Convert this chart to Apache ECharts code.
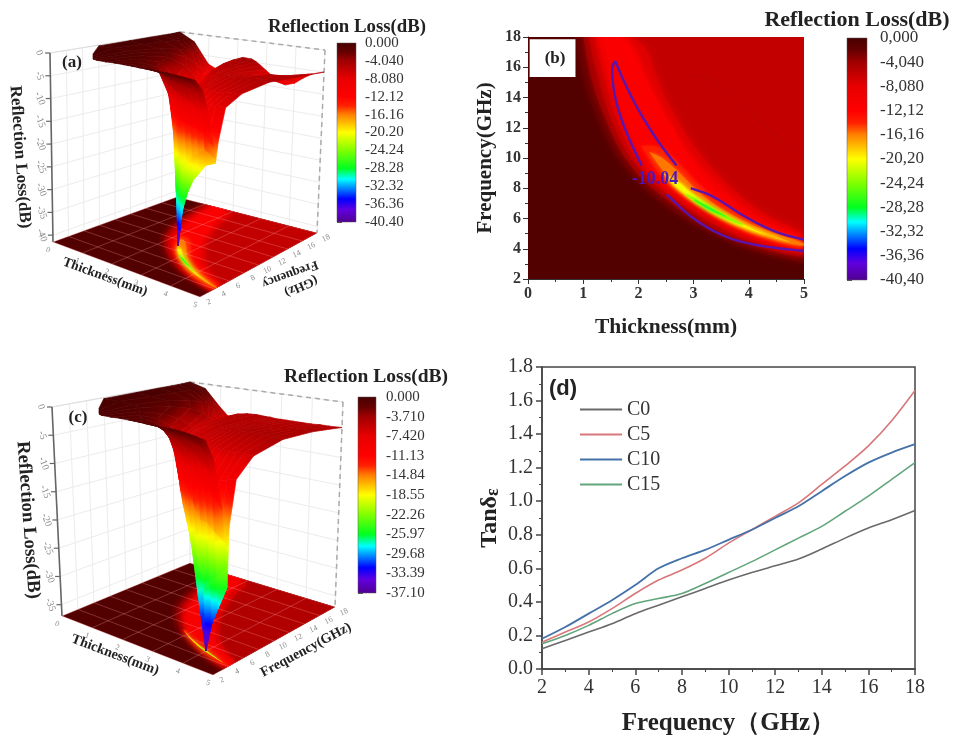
<!DOCTYPE html>
<html><head><meta charset="utf-8">
<style>html,body{margin:0;background:#fff}#c{width:955px;height:737px;filter:blur(0.55px)}</style>
<script src="https://cdn.jsdelivr.net/npm/echarts@6/dist/echarts.min.js"></script></head>
<body><div id="c"></div>
<script>
// ---------- panel (d) ----------
const freqD=[2,3,4,5,6,7,8,9,10,11,12,13,14,15,16,17,18];
const c0=[.12,.17,.22,.27,.33,.38,.43,.48,.53,.575,.615,.655,.715,.78,.84,.89,.945];
const c5=[.16,.22,.28,.36,.45,.53,.59,.66,.75,.83,.91,.99,1.1,1.21,1.33,1.48,1.66];
const c10=[.18,.25,.33,.41,.5,.6,.66,.71,.77,.83,.9,.97,1.06,1.15,1.23,1.29,1.34];
const c15=[.15,.2,.26,.33,.39,.42,.45,.51,.575,.64,.71,.78,.85,.94,1.03,1.13,1.23];
// ---------- colour bar labels ----------
const barLabelsA=["0.000","-4.040","-8.080","-12.12","-16.16","-20.20","-24.24","-28.28","-32.32","-36.36","-40.40"];
const barLabelsB=["0,000","-4,040","-8,080","-12,12","-16,16","-20,20","-24,24","-28,28","-32,32","-36,36","-40,40"];
const barLabelsC=["0.000","-3.710","-7.420","-11.13","-14.84","-18.55","-22.26","-25.97","-29.68","-33.39","-37.10"];
// ---------- surfaces: cross sections at each thickness (mm), sampled relative to the absorption ridge ----------
const stationT=[0,.5,1,1.3,1.6,1.9,2.2,2.5,2.65,2.8,3,3.2,3.4,3.7,4,4.3,4.6,5];
const ridgeFreqA=[17,17,17,16.8,15.5,12.5,10.2,8.8,8.2,7.7,7.2,6.6,6.1,5.6,5.2,4.9,4.6,4.35];
const ridgeFreqC=[17,17,17,16,13,10.5,8.9,7.6,7.2,6.8,6.35,6.05,5.75,5.35,5,4.7,4.4,4.1];
const nodesBelow=[1,.6,.35,.18,.08,.03];
const nodesAbove=[.03,.1,.25,.5,.75,1];
const rlA=[
[-.2,-.2,-.15,-.1,-.1,-.1,-.1,-.1,-.1,-.1,-.05,0,0],
[-.2,-.3,-.5,-.7,-.9,-1,-1.1,-1.2,-1.3,-1.4,-1.6,-1.8,-2],
[-.2,-.5,-1,-2,-3,-4,-5,-5.2,-5.4,-5.8,-6,-6.5,-7],
[-.3,-.7,-1.6,-3.5,-6,-8,-9,-9,-9,-8.8,-8.5,-8.2,-8],
[-.3,-.9,-2.2,-5,-8.5,-10,-11,-10.8,-10,-9,-8,-7,-6.5],
[-.4,-1,-2.5,-6.5,-10.5,-12,-13,-12.5,-11,-8.5,-6.5,-5.5,-5],
[-.4,-1.2,-2.8,-9,-13,-14.5,-15,-14,-11,-8.5,-6.2,-4.8,-4.2],
[-.5,-1.4,-3,-7.5,-15,-21,-24,-18,-11,-7.8,-6,-5,-4.3],
[-.55,-1.5,-3,-6.5,-16,-27,-33,-21,-11,-7.5,-5.8,-5.2,-4.8],
[-.6,-1.6,-3,-6,-15,-30,-40,-24,-11,-7.2,-5.7,-5.6,-5.5],
[-.7,-1.8,-3.2,-6,-14,-27,-36,-23,-11,-7.2,-5.6,-5.8,-6.5],
[-.75,-1.9,-3.3,-6,-13,-24,-33,-22,-10.5,-7,-5.5,-6,-7.5],
[-.8,-2,-3.5,-6,-12,-22,-30,-20,-10,-7,-5.4,-6.3,-8.5],
[-.9,-2.1,-3.7,-6.5,-12,-20,-26,-18,-9.5,-7,-5.2,-6,-9.2],
[-1,-2.3,-4,-7,-12,-18,-23,-16,-9,-6.8,-5,-5.3,-8.5],
[-1.2,-2.5,-4.3,-8,-12.5,-17,-21,-14,-8.5,-6.5,-5,-5.2,-7],
[-1.4,-2.8,-5,-9,-13,-16,-19,-13,-8,-6.2,-4.8,-5,-5.8],
[-1.7,-4,-8,-12,-15,-17,-18,-14,-8,-6,-4.8,-4.9,-5]];
const rlC=[
[-.2,-.2,-.15,-.1,-.1,-.1,-.1,-.1,-.1,-.1,-.05,0,0],
[-.2,-.3,-.5,-.6,-.7,-.8,-.85,-.9,-.9,-.9,-.9,-.9,-.9],
[-.2,-.5,-.9,-1.6,-2.4,-3,-3.5,-3.6,-3.7,-3.9,-4,-4.2,-4.3],
[-.3,-.7,-1.5,-2.7,-4,-5,-5.7,-5.8,-5.9,-6,-6,-6,-6],
[-.3,-.9,-2,-3.5,-5,-5.7,-6,-6,-5.9,-5.6,-5.2,-5,-5],
[-.4,-1,-2.2,-4,-5.6,-6.6,-7,-6.9,-6.6,-5.8,-4.9,-4.6,-4.7],
[-.4,-1.2,-2.5,-4.3,-6.2,-7.8,-8.5,-8,-7,-5.7,-4.8,-4.5,-4.6],
[-.5,-1.3,-2.6,-4.5,-7,-9.5,-10.5,-9.3,-7.5,-6,-4.8,-4.6,-4.7],
[-.55,-1.4,-2.8,-4.8,-7.5,-10.5,-12,-10,-7.8,-6,-4.8,-4.6,-4.7],
[-.6,-1.5,-3,-5,-8,-11.5,-13.5,-11,-8,-6.2,-4.8,-4.6,-4.8],
[-.7,-1.7,-3.2,-5.5,-9,-13,-15.5,-12,-8.5,-6.3,-4.7,-4.6,-4.8],
[-.75,-1.8,-3.5,-6,-10.5,-15,-18,-13,-8.8,-6.3,-4.6,-4.6,-4.8],
[-.8,-2,-3.8,-7,-12,-17,-21,-14,-9,-6.3,-4.5,-4.6,-4.8],
[-.9,-2.3,-4.5,-8,-14,-22,-29,-17,-9.5,-6.3,-4.4,-4.6,-4.8],
[-1,-2.6,-5,-9,-16,-27,-37,-21,-10,-6.3,-4.3,-4.5,-4.8],
[-1.2,-3,-6,-10,-16,-25,-32,-20,-10,-6.2,-4.3,-4.4,-4.7],
[-1.5,-3.6,-7,-11,-17,-24,-29,-19,-9.5,-6,-4.3,-4.3,-4.7],
[-2,-5,-9,-13,-18,-22,-25,-16,-9,-6,-4.4,-4.2,-4.6]];
// ---------- contours of panel (b), [thickness, frequency] ----------
const front2=[[.85,18],[1,15],[1.2,13],[1.5,10.5],[1.9,8.6],[2.3,7.3],[2.8,6],[3.3,5],[3.8,4.2],[4.3,3.6],[5,3]];
const front4=[[1,18],[1.15,15],[1.35,13],[1.65,10.5],[2.05,8.6],[2.45,7.4],[2.9,6.2],[3.4,5.2],[3.9,4.4],[4.4,3.85],[5,3.4]];
const front6=[[1.1,18],[1.25,15.5],[1.45,13],[1.75,10.5],[2.15,8.7],[2.55,7.5],[3,6.4],[3.5,5.35],[4,4.55],[4.5,4],[5,3.6]];
const cres7=[[1.2,18],[1.33,16],[1.55,13],[1.85,10.5],[2.2,8.8],[2.6,7.6],[3.05,6.5],[3.55,5.45],[4.05,4.65],[4.5,4.15],[5,3.75],[5,5.1],[4.5,5.8],[4,7],[3.5,8.6],[3.1,10.3],[2.7,12.5],[2.35,15],[2.1,18]];
const cres9=[[1.25,18],[1.4,16],[1.62,13],[1.93,10.5],[2.27,8.8],[2.65,7.7],[3.1,6.6],[3.6,5.5],[4.1,4.7],[4.55,4.2],[5,3.8],[5,4.9],[4.3,5.8],[3.8,7],[3.3,8.8],[2.9,10.3],[2.5,12.5],[2.15,15],[1.9,18]];
const cres11=[[1.35,18],[1.5,16],[1.7,13],[2,10.5],[2.33,8.8],[2.7,7.6],[3.1,6.7],[3.6,5.6],[4.1,4.8],[4.6,4.25],[5,3.95],[5,4.75],[4.4,5.5],[3.9,6.5],[3.4,7.9],[3,9.5],[2.7,11.5],[2.3,14],[1.95,16.5],[1.75,18]];
const cres13=[[2.05,10.8],[2.35,9],[2.7,7.75],[3.1,6.8],[3.6,5.7],[4.1,4.9],[4.6,4.35],[5,4.05],[5,4.55],[4.5,5.1],[4,5.9],[3.5,7],[3.1,8.2],[2.75,9.6],[2.4,10.8]];
const cres15=[[2.2,10.4],[2.45,9.1],[2.75,7.85],[3.1,6.95],[3.6,5.8],[4.1,5],[4.6,4.45],[5,4.15],[5,4.4],[4.5,4.95],[4,5.65],[3.5,6.6],[3.1,7.7],[2.75,9],[2.45,10]];
const cres17=[[2.45,9],[2.6,8.2],[3,7.1],[3.5,6],[4,5.2],[4.6,4.55],[4.8,4.4],[4.55,4.75],[4,5.5],[3.5,6.4],[3,7.6],[2.7,8.6]];
const cres20=[[2.6,8.4],[3,7.2],[3.5,6.1],[4,5.3],[4.4,4.8],[4,5.4],[3.5,6.3],[3,7.5],[2.7,8.5]];
const cres24=[[2.85,7.6],[3.2,6.7],[3.6,5.95],[4,5.4],[3.6,6.15],[3.2,6.95],[2.9,7.6]];
const cres27=[[3,7.2],[3.3,6.55],[3.7,5.95],[3.3,6.7],[3.05,7.2]];
const cres30=[[3.15,6.85],[3.45,6.35],[3.2,6.75]];
const cresC13=[[2.75,6.85],[3.2,5.9],[3.7,5.2],[4.3,4.55],[5,3.95],[5,4.25],[4.3,4.85],[3.7,5.5],[3.2,6.2],[2.8,7.1]];
const cresC20=[[2.8,6.85],[3.2,5.95],[3.7,5.25],[4.3,4.6],[4.9,4.1],[4.3,4.78],[3.7,5.42],[3.2,6.1]];
const cresC25=[[3.6,5.33],[4.3,4.65],[4.7,4.3],[4.3,4.72],[3.6,5.42]];
const contourUpper=[[1.58,16.4],[1.72,15.2],[1.96,13.4],[2.33,11.2],[2.69,9.5]];
const contourUpper2=[[2.95,8],[3.36,7.5],[3.9,6.15],[4.5,5.05],[5,4.6]];
const contourLower=[[1.58,16.4],[1.51,16],[1.57,13.9],[1.78,11.65],[2.06,9.5]];
const contourLower2=[[2.51,7.6],[3,5.9],[3.6,4.7],[4.2,4.17],[5,3.85]];
const faintContour=[[2.9,15.5],[3.3,15.4],[4,13],[5,10]];

const RAMP=[[0,'#480000'],[.05,'#640000'],[.1,'#a00000'],[.2,'#e80000'],[.3,'#ff0000'],[.35,'#ff2000'],[.4,'#ff8000'],[.45,'#ffc000'],[.5,'#ffff00'],[.6,'#80ff00'],[.7,'#00ff20'],[.76,'#00ffff'],[.8,'#00a0ff'],[.87,'#0000ff'],[.93,'#6000e0'],[1,'#500090']];
function hex(c){return [1,3,5].map(i=>parseInt(c.substr(i,2),16));}
function rampAt(fr){fr=Math.max(0,Math.min(1,fr));for(let i=1;i<RAMP.length;i++){if(fr<=RAMP[i][0]){const a=RAMP[i-1],b=RAMP[i],k=(fr-a[0])/(b[0]-a[0]),p=hex(a[1]),q=hex(b[1]);return 'rgb('+p.map((v,n)=>Math.round(v+(q[n]-v)*k)).join(',')+')';}}return RAMP[RAMP.length-1][1];}
function chaikin(pts,n){let p=pts;for(let k=0;k<n;k++){const o=[p[0]];for(let i=0;i<p.length-1;i++){const a=p[i],b=p[i+1];o.push([a[0]*.75+b[0]*.25,a[1]*.75+b[1]*.25],[a[0]*.25+b[0]*.75,a[1]*.25+b[1]*.75]);}o.push(p[p.length-1]);p=o;}return p;}
const closeFront=f=>chaikin(f,2).concat([[5,18]]);
const closeCres=c=>chaikin(c.concat([c[0]]),2);
const layersB=[[-2,closeFront(front2)],[-4,closeFront(front4)],[-6,closeFront(front6)],[-7.5,closeCres(cres7)],[-9.5,closeCres(cres9)],[-11.5,closeCres(cres11)],[-14,closeCres(cres13)],[-16,closeCres(cres15)],[-18,closeCres(cres17)],[-20.5,closeCres(cres20)],[-24,closeCres(cres24)],[-27,closeCres(cres27)],[-30,closeCres(cres30)]];
const layersC=[[-2,closeFront(front2)],[-3.5,closeFront(front4)],[-5,closeFront(front6)],[-7,closeCres(cres7)],[-9,closeCres(cres9)],[-10.5,closeCres(cres11)],[-13.5,closeCres(cresC13)],[-19,closeCres(cresC20)],[-24,closeCres(cresC25)]];
const SERIF='"Liberation Serif","DejaVu Serif",serif';
const BOXA={top:[[50,53],[195,71],[325,50],[180,32]],bot:[[53,242],[200,297],[317,233],[177,197]],floor:41.5,scale:40.4,minX:93,rlTicks:[0,-5,-10,-15,-20,-25,-30,-35,-40]};
const BOXC={top:[[52,407],[205,427],[343,402],[190,382]],bot:[[62,616],[213,675],[335,607],[190,563]],floor:37,scale:37.1,minX:99,rlTicks:[0,-5,-10,-15,-20,-25,-30,-35]};
function bil(c,u,v){const w=[(1-u)*(1-v),u*(1-v),u*v,(1-u)*v];return [0,1].map(n=>c[0][n]*w[0]+c[1][n]*w[1]+c[2][n]*w[2]+c[3][n]*w[3]);}
function proj(b,t,f,rl){const u=t/5,v=(f-2)/16,w=Math.min(1,-rl/b.floor),p=bil(b.top,u,v),q=bil(b.bot,u,v);return [p[0]+(q[0]-p[0])*w,p[1]+(q[1]-p[1])*w];}
const pane={xAxisIndex:2,yAxisIndex:2,coordinateSystem:'cartesian2d',type:'custom',clip:false,silent:true,animation:false};
function nodeFreq(fr,j){ // node j of the cross section through a ridge at frequency fr
  const nb=nodesBelow.length;
  if(j<nb)return fr-(fr-2)*nodesBelow[j];
  if(j===nb)return fr;
  return fr+(18-fr)*nodesAbove[j-nb-1];
}
function surface(b,rl,ridge){
  const M=rl[0].length,quads=[];
  for(let i=0;i<stationT.length-1;i++)for(let j=M-2;j>=0;j--)quads.push([[i,j],[i+1,j],[i+1,j+1],[i,j+1]]);
  return Object.assign({},pane,{data:quads.map((q,k)=>[0,0,k]),z:5,renderItem(p,api){
    const q=quads[api.value(2)];
    const vs=q.map(([i,j])=>{const a=proj(b,stationT[i],nodeFreq(ridge[i],j),rl[i][j]);a[0]=Math.max(a[0],b.minX);return {c:api.coord(a),r:rl[i][j]};});
    let hi=vs[0],lo=vs[0];vs.forEach(v=>{if(v.r>hi.r)hi=v;if(v.r<lo.r)lo=v;});
    let fill=rampAt(-hi.r/b.scale);
    if(hi.r-lo.r>.2&&(hi.c[0]!==lo.c[0]||hi.c[1]!==lo.c[1])){
      const st=[];for(let n=0;n<=8;n++){const r=hi.r+(lo.r-hi.r)*n/8;st.push({offset:n/8,color:rampAt(-r/b.scale)});}
      fill=new echarts.graphic.LinearGradient(hi.c[0],hi.c[1],lo.c[0],lo.c[1],st,true);
    }
    return {type:'polygon',shape:{points:vs.map(v=>v.c)},style:{fill,stroke:fill,lineWidth:.7}};
  }});
}
function floorSeries(b,layers){
  return Object.assign({},pane,{data:[[0,0,-1]].concat(layers.map((l,k)=>[0,0,k])),z:3,renderItem(p,api){
    const k=api.value(2);
    const corners=[[0,2],[5,2],[5,18],[0,18]].map(a=>api.coord(proj(b,a[0],a[1],-99)));
    if(k<0)return {type:'polygon',shape:{points:corners},style:{fill:rampAt(.02)}};
    const l=layers[k],col=rampAt(-l[0]/40.4);
    return {type:'group',clipPath:{type:'polygon',shape:{points:corners}},children:[{type:'polygon',shape:{points:l[1].map(a=>api.coord(proj(b,a[0],a[1],-99)))},style:{fill:col,shadowBlur:5,shadowColor:col}}]};
  }});
}
function frameSeries(b){
  const segs=[];const col='#ececec',flo='rgba(255,190,190,.3)';
  b.rlTicks.forEach(r=>{segs.push([[0,2,r],[0,18,r],col,1],[[0,18,r],[5,18,r],col,1]);});
  for(let f=2;f<=18;f+=2){segs.push([[0,f,0],[0,f,-99],col,1],[[0,f,-99],[5,f,-99],flo,1,1]);}
  for(let t=0;t<=5;t++){segs.push([[t,18,0],[t,18,-99],col,1],[[t,2,-99],[t,18,-99],flo,1,1]);}
  const dash=[[[0,18,0],[5,18,0],'#aaa',1.5,0,[5,4]],[[5,18,0],[5,18,-99],'#aaa',1.5,0,[5,4]],[[0,2,0],[0,18,0],'#ddd',1],[[0,2,0],[0,2,-99],'#666',1.6]];
  const all=segs.concat(dash);
  b.rlTicks.forEach(r=>{all.push([[0,2,r],[0,2,r],'#666',1.2,0,null,-5]);});
  return Object.assign({},pane,{data:all.map((s,k)=>[0,0,k]),z:1,renderItem(p,api){
    const s=all[api.value(2)],a=api.coord(proj(b,...s[0])),c=api.coord(proj(b,...s[1]));
    if(s[6])c[0]+=s[6];
    return {type:'line',shape:{x1:a[0],y1:a[1],x2:c[0],y2:c[1]},style:{stroke:s[2],lineWidth:s[3],lineDash:s[5]||null}};
  }});
}
function floorGrid(b){
  const segs=[];
  for(let f=2;f<=18;f+=2)segs.push([[0,f,-99],[5,f,-99]]);
  for(let t=0;t<=5;t++)segs.push([[t,2,-99],[t,18,-99]]);
  return Object.assign({},pane,{data:segs.map((s,k)=>[0,0,k]),z:4,renderItem(p,api){
    const s=segs[api.value(2)],a=api.coord(proj(b,...s[0])),c=api.coord(proj(b,...s[1]));
    return {type:'line',shape:{x1:a[0],y1:a[1],x2:c[0],y2:c[1]},style:{stroke:'rgba(255,170,170,.28)',lineWidth:1}};
  }});
}
function floorLabels(b){
  const items=[];
  b.rlTicks.forEach(r=>items.push(['z',r]));
  for(let t=0;t<=5;t++)items.push(['t',t]);
  for(let f=2;f<=18;f+=2)items.push(['f',f]);
  return Object.assign({},pane,{data:items.map((s,k)=>[0,0,k]),z:6,renderItem(p,api){
    const s=items[api.value(2)];let a,txt=String(s[1]),rot=0,fs=8;
    if(s[0]==='z'){a=api.coord(proj(b,0,2,s[1]));a[0]-=11;rot=-1.2;fs=10;}
    if(s[0]==='t'){a=api.coord(proj(b,s[1],2,-99));a[0]-=5;a[1]+=8;rot=-.35;}
    if(s[0]==='f'){a=api.coord(proj(b,5,s[1],-99));a[0]+=9;a[1]+=5;rot=.45;}
    return {type:'text',x:a[0],y:a[1],rotation:rot,style:{text:txt,fill:'#888',font:fs+'px '+SERIF,align:'center',verticalAlign:'middle'}};
  }});
}
function colorBar(idx,labels){
  return {type:'custom',xAxisIndex:idx,yAxisIndex:idx,coordinateSystem:'cartesian2d',silent:true,clip:false,data:[[0,0]],renderItem(p,api){
    const a=api.coord([0,0]),c=api.coord([1,labels.length-1]);
    const st=[];RAMP.forEach(r=>st.push({offset:r[0],color:r[1]}));
    return {type:'rect',shape:{x:a[0],y:a[1],width:c[0]-a[0],height:c[1]-a[1]},style:{fill:new echarts.graphic.LinearGradient(0,0,0,1,st),stroke:'#555',lineWidth:.5}};
  }};
}
function barAxis(idx,labels,fs,mg){
  return {gridIndex:idx,type:'category',position:'right',inverse:true,boundaryGap:false,data:labels,axisLine:{show:false},axisTick:{show:true,length:5,alignWithLabel:true,lineStyle:{color:'#555'},interval:0},axisLabel:{interval:0,margin:mg,fontFamily:SERIF,fontSize:fs,color:'#333',showMinLabel:true,showMaxLabel:true},splitLine:{show:false}};
}
const ax=c=>({fontFamily:SERIF,color:c||'#333'});
const option={
  animation:false,backgroundColor:'#fff',
  grid:[
    {left:528,top:37,width:276,height:242},
    {left:542,top:367,width:373,height:302,show:true,borderColor:'#444',borderWidth:1.5,backgroundColor:'transparent'},
    {left:0,top:0,width:955,height:737,show:false},
    {left:337,top:43,width:19,height:179},
    {left:847,top:38,width:20,height:242},
    {left:358,top:397,width:18,height:196}
  ],
  xAxis:[
    {gridIndex:0,type:'value',min:0,max:5,interval:1,name:'Thickness(mm)',nameLocation:'middle',nameGap:37,nameTextStyle:{fontFamily:SERIF,fontWeight:'bold',fontSize:21.5,color:'#222'},axisLine:{lineStyle:{color:'#333'}},axisTick:{length:5,lineStyle:{color:'#333'}},minorTick:{show:true,splitNumber:2,length:3,lineStyle:{color:'#333'}},splitLine:{show:false},axisLabel:Object.assign(ax(),{fontSize:16,fontWeight:'bold',margin:7})},
    {gridIndex:1,type:'value',min:2,max:18,interval:2,name:'Frequency（GHz）',nameLocation:'middle',nameGap:42,nameTextStyle:{fontFamily:SERIF,fontWeight:'bold',fontSize:25,color:'#222'},axisLine:{lineStyle:{color:'#444',width:1.5}},axisTick:{length:6,lineStyle:{color:'#444',width:1.5}},minorTick:{show:true,splitNumber:2,length:3,lineStyle:{color:'#444'}},splitLine:{show:false},axisLabel:Object.assign(ax(),{fontSize:20,margin:9})},
    {gridIndex:2,type:'value',min:0,max:955,show:false},
    {gridIndex:3,type:'value',min:0,max:1,show:false},
    {gridIndex:4,type:'value',min:0,max:1,show:false},
    {gridIndex:5,type:'value',min:0,max:1,show:false}
  ],
  yAxis:[
    {gridIndex:0,type:'value',min:2,max:18,interval:2,name:'Frequency(GHz)',nameLocation:'middle',nameGap:32,nameTextStyle:{fontFamily:SERIF,fontWeight:'bold',fontSize:21,color:'#222'},axisLine:{lineStyle:{color:'#333'}},axisTick:{length:5,lineStyle:{color:'#333'}},minorTick:{show:true,splitNumber:2,length:3,lineStyle:{color:'#333'}},splitLine:{show:false},axisLabel:Object.assign(ax(),{fontSize:16,fontWeight:'bold',margin:7})},
    {gridIndex:1,type:'value',min:0,max:1.8,interval:.2,name:'{a|Tanδ}{b|ε}',nameLocation:'middle',nameGap:40,nameTextStyle:{rich:{a:{fontFamily:SERIF,fontWeight:'bold',fontSize:24,color:'#222'},b:{fontFamily:SERIF,fontWeight:'bold',fontSize:18,color:'#222',verticalAlign:'bottom'}}},axisLine:{lineStyle:{color:'#444',width:1.5}},axisTick:{length:6,lineStyle:{color:'#444',width:1.5}},minorTick:{show:true,splitNumber:2,length:3,lineStyle:{color:'#444'}},splitLine:{show:false},axisLabel:Object.assign(ax(),{fontSize:20,margin:9,formatter:v=>v.toFixed(1)})},
    {gridIndex:2,type:'value',min:0,max:737,inverse:true,show:false},
    barAxis(3,barLabelsA,15,9),barAxis(4,barLabelsB,17,13),barAxis(5,barLabelsC,15,10)
  ],
  legend:{data:['C0','C5','C10','C15'],orient:'vertical',left:580,top:399,itemWidth:42,itemHeight:2,itemGap:4,icon:'rect',textStyle:{fontFamily:SERIF,fontSize:20,color:'#333',lineHeight:21},padding:0},
  series:[
    {name:'C0',type:'line',xAxisIndex:1,yAxisIndex:1,symbol:'none',smooth:.3,data:freqD.map((x,i)=>[x,c0[i]]),lineStyle:{color:'#6a6a6a',width:1.6},itemStyle:{color:'#6a6a6a'}},
    {name:'C5',type:'line',xAxisIndex:1,yAxisIndex:1,symbol:'none',smooth:.3,data:freqD.map((x,i)=>[x,c5[i]]),lineStyle:{color:'#d8777a',width:1.6},itemStyle:{color:'#d8777a'}},
    {name:'C10',type:'line',xAxisIndex:1,yAxisIndex:1,symbol:'none',smooth:.3,data:freqD.map((x,i)=>[x,c10[i]]),lineStyle:{color:'#4472a8',width:1.8},itemStyle:{color:'#4472a8'}},
    {name:'C15',type:'line',xAxisIndex:1,yAxisIndex:1,symbol:'none',smooth:.3,data:freqD.map((x,i)=>[x,c15[i]]),lineStyle:{color:'#62a57c',width:1.6},itemStyle:{color:'#62a57c'}},
    // panel (b) contour map
    {type:'custom',xAxisIndex:0,yAxisIndex:0,coordinateSystem:'cartesian2d',clip:true,silent:true,data:[[0,2,-1]].concat(layersB.map((l,k)=>[0,2,k])),renderItem(p,api){
      const k=api.value(2);
      if(k<0){const a=api.coord([0,18]),c=api.coord([5,2]);return {type:'rect',shape:{x:a[0],y:a[1],width:c[0]-a[0],height:c[1]-a[1]},style:{fill:rampAt(.02)}};}
      const col=rampAt(-layersB[k][0]/40.4);
      return {type:'polygon',shape:{points:layersB[k][1].map(q=>api.coord(q))},style:{fill:col,shadowBlur:k<6?9:4,shadowColor:col}};
    },z:2},
    {type:'custom',xAxisIndex:0,yAxisIndex:0,coordinateSystem:'cartesian2d',clip:true,silent:true,data:[[0,2,0],[0,2,1],[0,2,2],[0,2,3],[0,2,4]],renderItem(p,api){
      const k=api.value(2),src=[contourUpper,contourUpper2,contourLower,contourLower2,faintContour][k];
      return {type:'polyline',shape:{points:chaikin(src,2).map(q=>api.coord(q))},style:{fill:null,stroke:k===4?'#b80808':'#5a14b0',lineWidth:k===4?1:2.4}};
    },z:3},
    {type:'custom',xAxisIndex:0,yAxisIndex:0,coordinateSystem:'cartesian2d',clip:false,silent:true,data:[[0,0,0]],renderItem(p,api){
      const a=api.coord([.03,17.85]),c=api.coord([.86,15.35]),m=api.coord([.49,16.55]),l=api.coord([2.3,8.6]);
      return {type:'group',children:[
        {type:'rect',shape:{x:a[0],y:a[1],width:c[0]-a[0],height:c[1]-a[1]},style:{fill:'#fff'}},
        {type:'text',x:m[0],y:m[1],style:{text:'(b)',font:'bold 17px '+SERIF,fill:'#222',align:'center',verticalAlign:'middle'}},
        {type:'text',x:l[0],y:l[1],style:{text:'-10.04',font:'bold 18px '+SERIF,fill:'#4a18c0',align:'center',verticalAlign:'middle'}}
      ]};
    },z:4},
    frameSeries(BOXA),floorSeries(BOXA,layersB),floorGrid(BOXA),surface(BOXA,rlA,ridgeFreqA),floorLabels(BOXA),
    frameSeries(BOXC),floorSeries(BOXC,layersC),floorGrid(BOXC),surface(BOXC,rlC,ridgeFreqC),floorLabels(BOXC),
    colorBar(3,barLabelsA),colorBar(4,barLabelsB),colorBar(5,barLabelsC)
  ],
  graphic:[
    ['Reflection Loss(dB)',347,27,'bold 18.8px',0],
    ['Reflection Loss(dB)',857,20,'bold 22px',0],
    ['Reflection Loss(dB)',366,377,'bold 19.5px',0],
    ['(a)',72,63,'bold 17px',0],
    ['(c)',78,418,'bold 17px',0],
    ['Reflection Loss(dB)',20,157,'bold 17px',-1.5],
    ['Reflection Loss(dB)',28,520,'bold 18.8px',-1.5],
    ['Thickness(mm)',105,277,'bold 13.5px',-.35],
    ['Thickness(mm)',115,655,'bold 14px',-.36],
    ['Frequency',290,274,'bold 13px',.35+3.14],
    ['(GHz)',301,286,'bold 13px',.42+3.14],
    ['Frequency(GHz)',306,650,'bold 14px',.49]
  ].map(g=>({type:'text',x:g[1],y:g[2],rotation:g[4],z:20,silent:true,style:{text:g[0],font:g[3]+' '+SERIF,fill:'#222',align:'center',verticalAlign:'middle'}})).concat([
    {type:'text',x:563,y:389,z:20,silent:true,style:{text:'(d)',font:'bold 22px "Liberation Sans",sans-serif',fill:'#222',align:'center',verticalAlign:'middle'}}
  ])
};
echarts.init(document.getElementById('c'),null,{renderer:'canvas'}).setOption(option);
</script></body></html>
